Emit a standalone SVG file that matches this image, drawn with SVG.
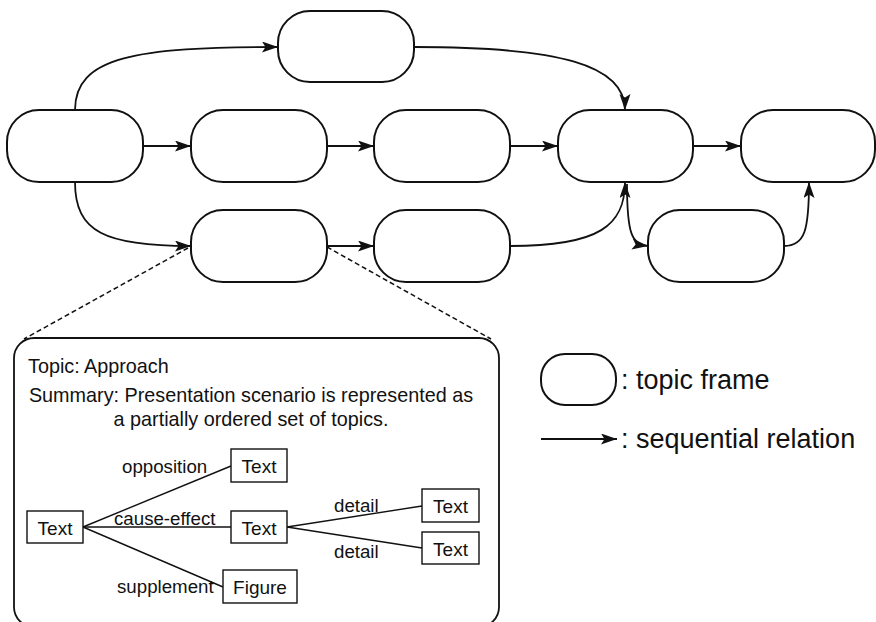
<svg xmlns="http://www.w3.org/2000/svg" width="876" height="622" viewBox="0 0 876 622">
<defs>
<marker id="ah" markerUnits="userSpaceOnUse" markerWidth="18" markerHeight="12" refX="16" refY="5.5" orient="auto">
<path d="M0,0 L16,5.5 L0,11 L3.5,5.5 z" fill="#111"/>
</marker>
<style>
.node{fill:#fff;stroke:#111;stroke-width:2}
.conn{fill:none;stroke:#111;stroke-width:1.8;marker-end:url(#ah)}
.dash{fill:none;stroke:#111;stroke-width:1.5;stroke-dasharray:5,3}
.box{fill:#fff;stroke:#111;stroke-width:1.4}
.rel{fill:none;stroke:#111;stroke-width:1.4}
text{font-family:"Liberation Sans",Arial,sans-serif;fill:#111}
.t19{font-size:19.8px}
.tb{font-size:19px}
.lab{font-size:18.7px}
.leg{font-size:27px}
</style>
</defs>
<rect width="876" height="622" fill="#fff"/>

<g id="connectors">
<path class="conn" d="M75,110 C75,57 135,47 278,47"/>
<path class="conn" d="M414,47 C560,47 625,65 625,110"/>
<path class="conn" d="M143,146 L191,146"/>
<path class="conn" d="M327,146 L374,146"/>
<path class="conn" d="M510,146 L558,146"/>
<path class="conn" d="M693,146 L741,146"/>
<path class="conn" d="M75,182 C75,232 105,246 191,246"/>
<path class="conn" d="M327,246 L374,246"/>
<path class="conn" d="M510,246 C600,246 625,225 625,182"/>
<path class="conn" d="M627,184 C627,235 632,244 648,246"/>
<path class="conn" d="M784,246 C805,246 809,230 809,182"/>
<path class="dash" d="M188,248 L24,339"/>
<path class="dash" d="M327,247 L491,339"/>
</g>

<g id="n-top"><rect class="node" x="278" y="11" width="136" height="71" rx="32"/></g>
<g id="n-a"><rect class="node" x="7" y="110" width="136" height="72" rx="32"/></g>
<g id="n-b"><rect class="node" x="191" y="110" width="136" height="72" rx="32"/></g>
<g id="n-c"><rect class="node" x="374" y="110" width="136" height="72" rx="32"/></g>
<g id="n-d"><rect class="node" x="558" y="110" width="135" height="72" rx="32"/></g>
<g id="n-e"><rect class="node" x="741" y="110" width="134" height="72" rx="32"/></g>
<g id="n-f"><rect class="node" x="191" y="210" width="136" height="72" rx="32"/></g>
<g id="n-g"><rect class="node" x="374" y="210" width="136" height="72" rx="32"/></g>
<g id="n-h"><rect class="node" x="648" y="210" width="136" height="72" rx="32"/></g>

<g id="detail">
<rect x="14" y="338" width="485" height="289" rx="20" fill="#fff" stroke="#111" stroke-width="1.8"/>
<text class="t19" x="28" y="373">Topic: Approach</text>
<text class="t19" x="251" y="402" text-anchor="middle">Summary: Presentation scenario is represented as</text>
<text class="t19" x="251" y="426" text-anchor="middle">a partially ordered set of topics.</text>
<g id="rels">
<path class="rel" d="M83,527 L231,466"/>
<path class="rel" d="M83,527 L231,527"/>
<path class="rel" d="M83,527 L223,587"/>
<path class="rel" d="M287,527 L422,506"/>
<path class="rel" d="M287,527 L422,548"/>
</g>
<g id="b-root"><rect class="box" x="27" y="511" width="56" height="32"/><text class="tb" x="55" y="535" text-anchor="middle">Text</text></g>
<g id="b-opp"><rect class="box" x="231" y="449" width="56" height="33"/><text class="tb" x="259" y="473" text-anchor="middle">Text</text></g>
<g id="b-cause"><rect class="box" x="231" y="511" width="56" height="32"/><text class="tb" x="259" y="535" text-anchor="middle">Text</text></g>
<g id="b-d1"><rect class="box" x="422" y="489" width="57" height="33"/><text class="tb" x="450.5" y="513" text-anchor="middle">Text</text></g>
<g id="b-d2"><rect class="box" x="422" y="532" width="57" height="32"/><text class="tb" x="450.5" y="556" text-anchor="middle">Text</text></g>
<g id="b-fig"><rect class="box" x="223" y="570" width="74" height="33"/><text class="tb" x="260" y="594" text-anchor="middle">Figure</text></g>
<text class="lab" x="122" y="473">opposition</text>
<text class="lab" x="114" y="525">cause-effect</text>
<text class="lab" x="117" y="593">supplement</text>
<text class="lab" x="334" y="512">detail</text>
<text class="lab" x="334" y="558">detail</text>
</g>

<g id="legend">
<rect class="node" x="541" y="354" width="75" height="51" rx="24"/>
<text class="leg" x="621" y="389">: topic frame</text>
<path class="conn" d="M541,439 L617,439"/>
<text class="leg" x="621" y="448">: sequential relation</text>
</g>
</svg>
